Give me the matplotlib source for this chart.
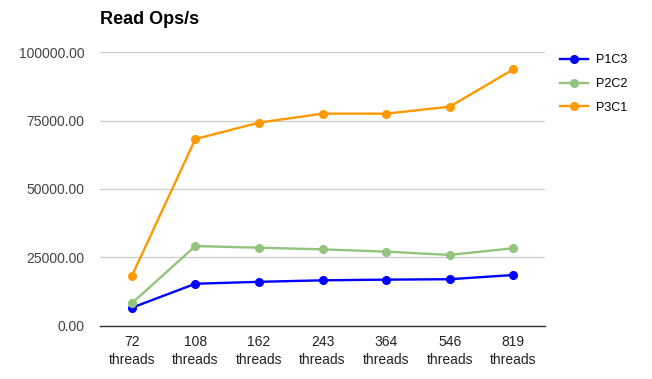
import matplotlib
matplotlib.use("Agg")
import matplotlib.pyplot as plt

plt.rcParams['font.family'] = ['Liberation Sans', 'DejaVu Sans']

threads = ["72", "108", "162", "243", "364", "546", "819"]
p1c3 = [6500, 15300, 16000, 16550, 16800, 16950, 18500]
p2c2 = [8100, 29100, 28500, 27900, 27050, 25850, 28300]
p3c1 = [18100, 68300, 74300, 77600, 77600, 80150, 93800]
yticks = [0, 25000, 50000, 75000, 100000]

fig = plt.figure(figsize=(6.52, 3.79), dpi=100)
ax = fig.add_axes([100/652, 1 - 325.5/379, 445/652, 273/379])

x = range(len(threads))
ax.plot(x, p1c3, color="#0000ff", lw=1.7, marker="o", ms=5.5, label="P1C3", zorder=3)
ax.plot(x, p2c2, color="#93c47d", lw=1.7, marker="o", ms=5.5, label="P2C2", zorder=3)
ax.plot(x, p3c1, color="#ff9900", lw=1.7, marker="o", ms=5.5, label="P3C1", zorder=3)

ax.set_xlim(-0.5, len(threads) - 0.5)
ax.set_ylim(0, 100000)
ax.set_yticks(yticks)
ax.set_yticklabels(["%.2f" % v for v in yticks])
ax.set_xticks(list(x))
ax.set_xticklabels([t + "\nthreads" for t in threads], linespacing=1.35)
ax.tick_params(axis="y", length=0, pad=11, labelsize=10, labelcolor="#444444")
ax.tick_params(axis="x", length=0, pad=7, labelsize=10, labelcolor="#222222")

for s in ["top", "right", "left"]:
    ax.spines[s].set_visible(False)
ax.spines["bottom"].set_color("#333333")
ax.spines["bottom"].set_linewidth(1.0)
ax.grid(axis="y", color="#cccccc", lw=0.9)
ax.set_axisbelow(True)

fig.text(100/652, 1 - 20/379, "Read Ops/s", fontsize=13, fontweight="bold",
         ha="left", va="center")

ax.legend(loc="upper left", bbox_to_anchor=(560/652, 1 - 54/379),
          bbox_transform=fig.transFigure, frameon=False, fontsize=9,
          borderaxespad=0, borderpad=0, handlelength=2.2,
          handletextpad=0.65, labelspacing=0.95)

fig.savefig("out.png", dpi=100)
